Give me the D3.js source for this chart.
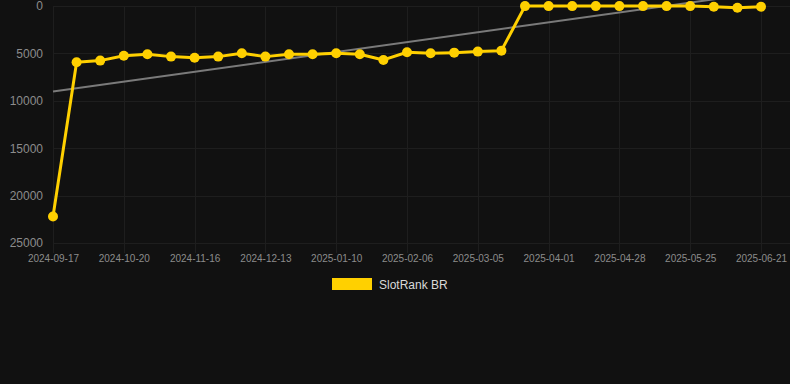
<!DOCTYPE html>
<html>
<head>
<meta charset="utf-8">
<script src="https://cdn.jsdelivr.net/npm/d3@7"></script>
<style>
  html, body { margin: 0; padding: 0; background: #111111; }
  svg { display: block; font-family: "Liberation Sans", Arial, Helvetica, sans-serif; }
</style>
</head>
<body>
<div id="chart"></div>
<script>
// Dates of each rank snapshot (category axis)
const dates = [
  "2024-09-17", "2024-10-02", "2024-10-11", "2024-10-20", "2024-10-29", "2024-11-07",
  "2024-11-16", "2024-11-25", "2024-12-04", "2024-12-13", "2024-12-22", "2024-12-31",
  "2025-01-10", "2025-01-19", "2025-01-28", "2025-02-06", "2025-02-15", "2025-02-24",
  "2025-03-05", "2025-03-14", "2025-03-23", "2025-04-01", "2025-04-10", "2025-04-19",
  "2025-04-28", "2025-05-07", "2025-05-16", "2025-05-25", "2025-06-03", "2025-06-12",
  "2025-06-21"
];

// SlotRank BR values (lower is better, axis reversed)
const ranks = [
  22200, 5930, 5760, 5240, 5090, 5340, 5450, 5340, 4980, 5340, 5090, 5090,
  4980, 5090, 5690, 4880, 4980, 4920, 4810, 4710, 10, 10, 10, 10,
  10, 10, 10, 10, 80, 180, 80
];

// Trend line values at first and last date
const trendValues = [9030, -1400];

const yTicks = [0, 5000, 10000, 15000, 20000, 25000];
const seriesName = "SlotRank BR";

const width = 790;
const height = 384;
const margin = { top: 6, right: 29, bottom: 141, left: 53 };

const lineColor = "#ffd000";
const gridColor = "#1e1e1e";

const svg = d3.select("#chart")
  .append("svg")
  .attr("width", width)
  .attr("height", height);

svg.append("rect")
  .attr("width", width)
  .attr("height", height)
  .attr("fill", "#111111");

const xScale = d3.scalePoint()
  .domain(dates)
  .range([margin.left, width - margin.right]);

const yScale = d3.scaleLinear()
  .domain([0, 25000])
  .range([margin.top, height - margin.bottom]);

const shownDates = dates.filter((d, i) => i % 3 === 0);

// Horizontal grid
svg.append("g")
  .selectAll("line")
  .data(yTicks)
  .enter()
  .append("line")
  .attr("x1", margin.left)
  .attr("x2", width)
  .attr("y1", (d) => Math.round(yScale(d)) + 0.5)
  .attr("y2", (d) => Math.round(yScale(d)) + 0.5)
  .attr("stroke", gridColor)
  .attr("stroke-width", 1);

// Vertical grid at labelled dates
svg.append("g")
  .selectAll("line")
  .data(shownDates)
  .enter()
  .append("line")
  .attr("x1", (d) => Math.round(xScale(d)) + 0.5)
  .attr("x2", (d) => Math.round(xScale(d)) + 0.5)
  .attr("y1", margin.top)
  .attr("y2", height - margin.bottom + 10)
  .attr("stroke", gridColor)
  .attr("stroke-width", 1);

// Y axis labels
const yAxis = d3.axisLeft(yScale)
  .tickValues(yTicks)
  .tickSize(0)
  .tickPadding(0)
  .tickFormat((d) => String(d));

svg.append("g")
  .attr("transform", `translate(${margin.left - 10}, 0)`)
  .call(yAxis)
  .call((g) => g.select(".domain").remove())
  .call((g) => g.selectAll("text")
    .attr("fill", "#8c8c8c")
    .attr("font-size", 12)
    .attr("font-family", "Liberation Sans, Arial, sans-serif"));

// X axis labels
const xAxis = d3.axisBottom(xScale)
  .tickValues(shownDates)
  .tickSize(0)
  .tickPadding(0);

svg.append("g")
  .attr("transform", `translate(0, ${height - margin.bottom + 10})`)
  .call(xAxis)
  .call((g) => g.select(".domain").remove())
  .call((g) => g.selectAll("text")
    .attr("fill", "#8c8c8c")
    .attr("font-size", 10)
    .attr("dy", "0.9em")
    .attr("font-family", "Liberation Sans, Arial, sans-serif"));

// Trend line
const trendScale = d3.scaleLinear()
  .domain([0, dates.length - 1])
  .range(trendValues);

svg.append("line")
  .attr("x1", xScale(dates[0]))
  .attr("y1", yScale(trendScale(0)))
  .attr("x2", xScale(dates[dates.length - 1]))
  .attr("y2", yScale(trendScale(dates.length - 1)))
  .attr("stroke", "#7a7a7a")
  .attr("stroke-width", 2);

// Rank line
const line = d3.line()
  .x((d, i) => xScale(dates[i]))
  .y((d) => yScale(d));

svg.append("path")
  .datum(ranks)
  .attr("d", line)
  .attr("fill", "none")
  .attr("stroke", lineColor)
  .attr("stroke-width", 3)
  .attr("stroke-linejoin", "round");

svg.append("g")
  .selectAll("circle")
  .data(ranks)
  .enter()
  .append("circle")
  .attr("cx", (d, i) => xScale(dates[i]))
  .attr("cy", (d) => yScale(d))
  .attr("r", 5)
  .attr("fill", lineColor);

// Legend
const legend = svg.append("g").attr("transform", "translate(332, 278)");
legend.append("rect")
  .attr("width", 40)
  .attr("height", 12)
  .attr("fill", lineColor);
legend.append("text")
  .attr("x", 47)
  .attr("y", 10.5)
  .attr("fill", "#d9d9d9")
  .attr("font-size", 12)
  .text(seriesName);
</script>
</body>
</html>
